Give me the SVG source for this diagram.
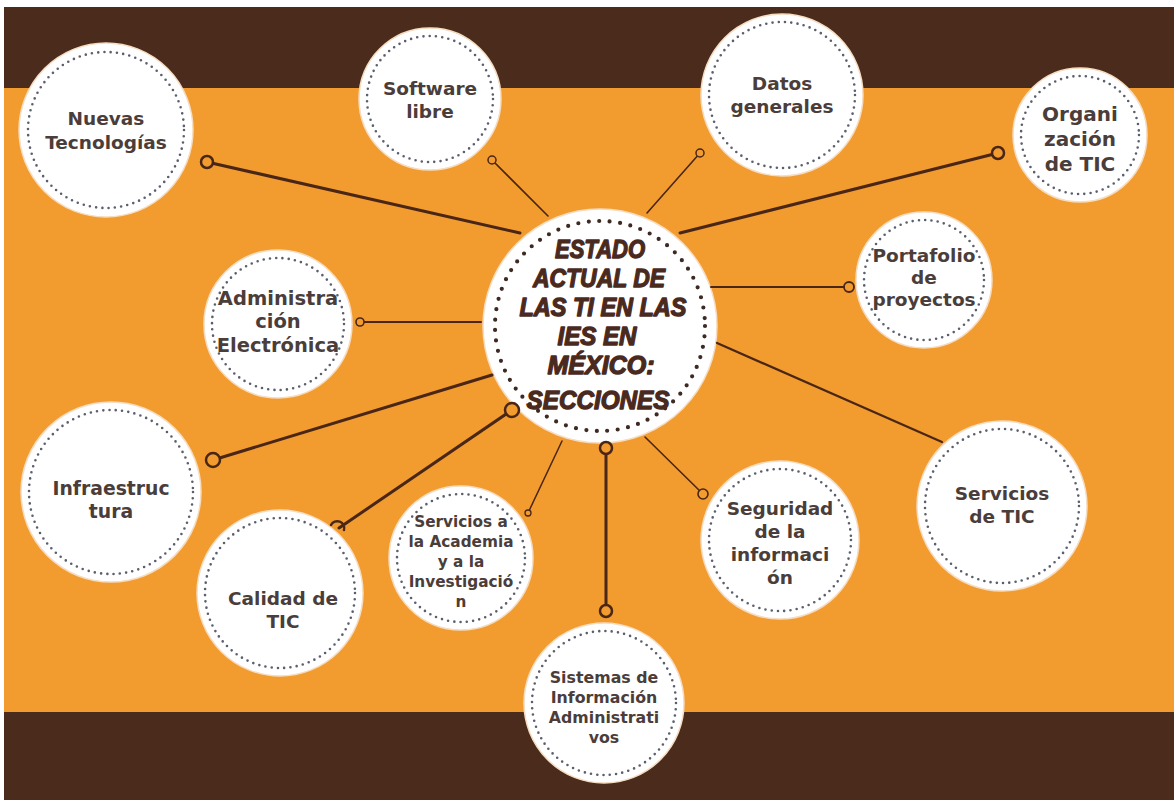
<svg xmlns="http://www.w3.org/2000/svg" width="1174" height="800" viewBox="0 0 1174 800">
<defs>
<style>
.bg-o{fill:#f29b2f}
.bg-d{fill:#4a2b1c}
.node{fill:#ffffff;stroke:#f6dcc0;stroke-width:1.5}
.dots{fill:none;stroke:#5b5f6c;stroke-width:2.6;stroke-dasharray:0 6.3;stroke-linecap:round}
.cdots{fill:none;stroke:#3d2a22;stroke-width:4.2;stroke-dasharray:0 10.5;stroke-linecap:round}
.lbl{font-family:"DejaVu Sans","Liberation Sans",sans-serif;font-weight:700;fill:#4a3d3a;text-anchor:middle}
.ctr{font-family:"Liberation Sans","DejaVu Sans",sans-serif;font-weight:900;font-style:italic;fill:#4a2a1e;stroke:#4a2a1e;stroke-width:1.3;stroke-linejoin:round;text-anchor:middle;font-size:25px}
.ln{stroke:#4a2616;fill:none;stroke-linecap:round}
.end{fill:#f29b2f;stroke:#4a2616}
</style>
</defs>
<rect x="0" y="0" width="1174" height="800" fill="#ffffff"/>
<rect class="bg-o" x="4" y="88" width="1170" height="624"/>
<rect class="bg-d" x="4" y="7" width="1170" height="81"/>
<rect class="bg-d" x="4" y="712" width="1170" height="88"/>

<g id="node-nuevas">
<circle class="node" cx="106" cy="130" r="87"/>
<circle class="dots" cx="106" cy="130" r="78"/>
<text class="lbl" font-size="18.5"><tspan x="106" y="125">Nuevas</tspan><tspan x="106" y="149">Tecnologías</tspan></text>
</g>

<g id="node-software">
<circle class="node" cx="430" cy="99" r="71"/>
<circle class="dots" cx="430" cy="99" r="63"/>
<text class="lbl" font-size="18.5"><tspan x="430" y="95">Software</tspan><tspan x="430" y="118">libre</tspan></text>
</g>

<g id="node-datos">
<circle class="node" cx="782" cy="95" r="81"/>
<circle class="dots" cx="782" cy="95" r="73"/>
<text class="lbl" font-size="18.5"><tspan x="782" y="90">Datos</tspan><tspan x="782" y="113">generales</tspan></text>
</g>

<g id="node-organizacion">
<circle class="node" cx="1080" cy="135" r="67"/>
<circle class="dots" cx="1080" cy="135" r="59"/>
<text class="lbl" font-size="20"><tspan x="1080" y="121">Organi</tspan><tspan x="1080" y="146">zación</tspan><tspan x="1080" y="171">de TIC</tspan></text>
</g>

<g id="node-portafolio">
<circle class="node" cx="924" cy="280" r="68"/>
<circle class="dots" cx="924" cy="280" r="60"/>
<text class="lbl" font-size="18.5"><tspan x="924" y="262">Portafolio</tspan><tspan x="924" y="284">de</tspan><tspan x="924" y="306">proyectos</tspan></text>
</g>

<g id="node-servicios-tic">
<circle class="node" cx="1002" cy="506" r="85"/>
<circle class="dots" cx="1002" cy="506" r="77"/>
<text class="lbl" font-size="18.5"><tspan x="1002" y="500">Servicios</tspan><tspan x="1002" y="523">de TIC</tspan></text>
</g>

<g id="node-seguridad">
<circle class="node" cx="780" cy="540" r="79"/>
<circle class="dots" cx="780" cy="540" r="71"/>
<text class="lbl" font-size="18.5"><tspan x="780" y="515">Seguridad</tspan><tspan x="780" y="538">de la</tspan><tspan x="780" y="561">informaci</tspan><tspan x="780" y="584">ón</tspan></text>
</g>

<g id="node-sistemas">
<circle class="node" cx="604" cy="703" r="80"/>
<circle class="dots" cx="604" cy="703" r="72"/>
<text class="lbl" font-size="15.8"><tspan x="604" y="683">Sistemas de</tspan><tspan x="604" y="703">Información</tspan><tspan x="604" y="723">Administrati</tspan><tspan x="604" y="743">vos</tspan></text>
</g>

<g id="node-academia">
<circle class="node" cx="461" cy="558" r="72"/>
<circle class="dots" cx="461" cy="558" r="64"/>
<text class="lbl" font-size="15.3"><tspan x="461" y="527">Servicios a</tspan><tspan x="461" y="547">la Academia</tspan><tspan x="461" y="567">y a la</tspan><tspan x="461" y="587">Investigació</tspan><tspan x="461" y="607">n</tspan></text>
</g>

<g id="node-calidad">
<circle class="node" cx="280" cy="593" r="83"/>
<circle class="dots" cx="280" cy="593" r="75"/>
<text class="lbl" font-size="18.5"><tspan x="283" y="605">Calidad de</tspan><tspan x="283" y="628">TIC</tspan></text>
</g>

<g id="node-infraestructura">
<circle class="node" cx="111" cy="492" r="90"/>
<circle class="dots" cx="111" cy="492" r="82"/>
<text class="lbl" font-size="18.8"><tspan x="111" y="495">Infraestruc</tspan><tspan x="111" y="518">tura</tspan></text>
</g>

<g id="node-administracion">
<circle class="node" cx="278" cy="324" r="74"/>
<circle class="dots" cx="278" cy="324" r="66"/>
<text class="lbl" font-size="19.5"><tspan x="278" y="305">Administra</tspan><tspan x="278" y="328">ción</tspan><tspan x="278" y="352">Electrónica</tspan></text>
</g>

<g id="node-center">
<circle class="node" cx="600" cy="326" r="117"/>
<circle class="cdots" cx="600" cy="326" r="105"/>
<text class="ctr" x="600" y="258" textLength="90" lengthAdjust="spacingAndGlyphs">ESTADO</text>
<text class="ctr" x="599" y="287" textLength="132" lengthAdjust="spacingAndGlyphs">ACTUAL DE</text>
<text class="ctr" x="603" y="316" textLength="167" lengthAdjust="spacingAndGlyphs">LAS TI EN LAS</text>
<text class="ctr" x="597" y="345" textLength="79" lengthAdjust="spacingAndGlyphs">IES EN</text>
<text class="ctr" x="601" y="374" textLength="107" lengthAdjust="spacingAndGlyphs">MÉXICO:</text>
<text class="ctr" x="598" y="409" textLength="143" lengthAdjust="spacingAndGlyphs">SECCIONES</text>
</g>

<g id="connectors">
<line class="ln" x1="207" y1="162" x2="520" y2="233" stroke-width="3"/>
<circle class="end" cx="207" cy="162" r="6" stroke-width="2.5"/>
<line class="ln" x1="492" y1="160" x2="548" y2="216" stroke-width="1.6"/>
<circle class="end" cx="492" cy="160" r="4" stroke-width="1.5"/>
<line class="ln" x1="700" y1="153" x2="647" y2="213" stroke-width="1.6"/>
<circle class="end" cx="700" cy="153" r="4" stroke-width="1.5"/>
<line class="ln" x1="998" y1="153" x2="680" y2="233" stroke-width="3"/>
<circle class="end" cx="998" cy="153" r="6" stroke-width="2.5"/>
<line class="ln" x1="711" y1="287" x2="849" y2="287" stroke-width="2"/>
<circle class="end" cx="849" cy="287" r="5" stroke-width="1.8"/>
<line class="ln" x1="717" y1="343" x2="942" y2="442" stroke-width="2.2"/>
<line class="ln" x1="645" y1="437" x2="703" y2="494" stroke-width="1.6"/>
<circle class="end" cx="703" cy="494" r="5" stroke-width="1.6"/>
<line class="ln" x1="606" y1="448" x2="606" y2="611" stroke-width="3"/>
<circle class="end" cx="606" cy="448" r="6" stroke-width="2.5"/>
<circle class="end" cx="606" cy="611" r="6" stroke-width="2.5"/>
<line class="ln" x1="562" y1="441" x2="528" y2="513" stroke-width="1.5"/>
<circle class="end" cx="528" cy="513" r="3" stroke-width="1.3"/>
<line class="ln" x1="512" y1="410" x2="339" y2="528" stroke-width="3"/>
<circle class="end" cx="512" cy="410" r="7" stroke-width="2.5"/>
<path class="ln" d="M 331 525 A 7 7 0 0 1 344 530" stroke-width="2.5"/>
<line class="ln" x1="213" y1="460" x2="492" y2="375" stroke-width="3"/>
<circle class="end" cx="213" cy="460" r="7" stroke-width="2.5"/>
<line class="ln" x1="360" y1="322" x2="481" y2="322" stroke-width="2"/>
<circle class="end" cx="360" cy="322" r="4" stroke-width="1.6"/>
</g>
</svg>
